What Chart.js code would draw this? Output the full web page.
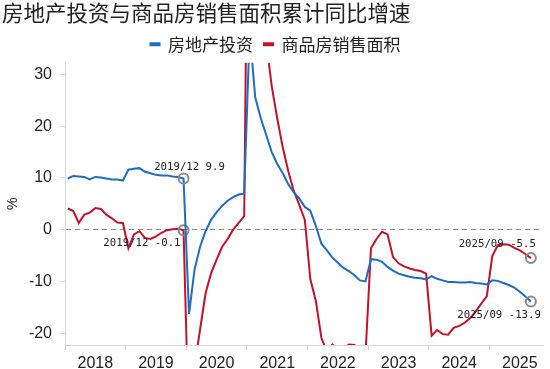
<!DOCTYPE html>
<html>
<head>
<meta charset="utf-8">
<script src="https://cdn.jsdelivr.net/npm/chart.js@4.4.0/dist/chart.umd.min.js"></script>
<style>
html,body{margin:0;padding:0;background:#fff;overflow:hidden}
</style>
</head>
<body>
<canvas id="myChart" width="550" height="369"></canvas>
<script>
var years = ['2018', '2019', '2020', '2021', '2022', '2023', '2024', '2025'];
var months = ['02', '03', '04', '05', '06', '07', '08', '09', '10', '11', '12'];
var yTicks = [-20, -10, 0, 10, 20, 30];

// 房地产投资 累计同比 %
var invest = [
    9.9, 10.4, 10.3, 10.2, 9.7, 10.2, 10.1, 9.9, 9.7, 9.7, 9.5,          //2018
    11.6, 11.8, 11.9, 11.2, 10.9, 10.6, 10.5, 10.5, 10.3, 10.2, 9.9,     //2019
    -16.3, -7.7, -3.3, -0.3, 1.9, 3.4, 4.6, 5.6, 6.3, 6.8, 7.0,          //2020
    38.3, 25.6, 21.6, 18.3, 15.0, 12.7, 10.9, 8.8, 7.2, 6.0, 4.4,        //2021
    3.7, 0.7, -2.7, -4.0, -5.4, -6.4, -7.4, -8.0, -8.8, -9.8, -10.0,     //2022
    -5.7, -5.8, -6.2, -7.2, -7.9, -8.5, -8.8, -9.1, -9.3, -9.4, -9.6,    //2023
    -9.0, -9.5, -9.8, -10.1, -10.1, -10.2, -10.2, -10.1, -10.3, -10.4, -10.6, //2024
    -9.8, -9.9, -10.3, -10.7, -11.2, -12.0, -12.9, -13.9                 //2025
];
// 商品房销售面积 累计同比 %
var sales = [
    4.1, 3.6, 1.3, 2.9, 3.3, 4.2, 4.0, 2.9, 2.2, 1.4, 1.3,               //2018
    -3.6, -0.9, -0.3, -1.6, -1.8, -1.3, -0.6, -0.1, 0.1, 0.2, -0.1,      //2019
    -39.9, -26.3, -19.3, -12.3, -8.4, -5.8, -3.3, -1.8, 0.0, 1.3, 2.6,   //2020
    104.9, 63.8, 48.1, 36.3, 27.7, 21.5, 15.9, 11.3, 7.5, 4.8, 1.9,      //2021
    -9.6, -13.8, -20.9, -23.6, -22.2, -23.1, -23.0, -22.2, -22.3, -23.3, -24.3, //2022
    -3.6, -1.8, -0.4, -0.9, -5.3, -6.5, -7.1, -7.5, -7.8, -8.0, -8.5,    //2023
    -20.5, -19.4, -20.2, -20.3, -19.0, -18.6, -18.0, -17.1, -15.8, -14.3, -12.9, //2024
    -5.1, -3.0, -2.8, -2.9, -3.5, -4.0, -4.7, -5.5                       //2025
];

var dates = [];//每個點的日期
years.forEach(function(y) {
    months.forEach(function(m) { dates.push(y + '/' + m); });
});
dates.length = invest.length;

var marked = [21, invest.length - 1];//畫圈的點 2019/12, 2025/09

// x軸刻度: 年份分界 + 年中(放年份文字)
var xTicks = [];
var xTickText = {};
years.forEach(function(y, k) {
    xTicks.push(-0.5 + 11 * k);
    xTicks.push(5 + 11 * k);
    xTickText[5 + 11 * k] = y;
});

var notes = [//標註文字
    {ds: 0, i: 21, dx: 6, dy: -11, align: 'center'},
    {ds: 1, i: 21, dx: -3, dy: 13, align: 'right'},
    {ds: 1, i: invest.length - 1, dx: 5, dy: -14, align: 'right'},
    {ds: 0, i: invest.length - 1, dx: 10, dy: 14, align: 'right'}
];

var notePlugin = {
    id: 'notes',
    afterDatasetsDraw: function(chart) {
        var ctx = chart.ctx;
        ctx.save();
        ctx.font = '10.7px "DejaVu Sans Mono"';
        ctx.fillStyle = '#222';
        ctx.textBaseline = 'middle';
        notes.forEach(function(n) {
            var pt = chart.getDatasetMeta(n.ds).data[n.i];
            var v = chart.data.datasets[n.ds].data[n.i].y;
            ctx.textAlign = n.align;
            ctx.fillText(dates[n.i] + ' ' + v.toFixed(1), pt.x + n.dx, pt.y + n.dy);
        });
        ctx.restore();
    }
};

function toPoints(arr) {
    return arr.map(function(v, i) { return {x: i, y: v}; });
}
function markRadius(c) {
    return marked.indexOf(c.dataIndex) >= 0 ? 5 : 0;
}

var ctx = document.getElementById('myChart').getContext('2d');
var chart = new Chart(ctx, {
    type: 'line',
    data: {
        datasets: [{
            label: '房地产投资',
            data: toPoints(invest),
            borderColor: '#1f6cc0',
            backgroundColor: '#1f6cc0',
            borderWidth: 2,
            tension: 0,
            pointRadius: markRadius,
            pointHoverRadius: markRadius,
            pointBorderColor: '#8a8a8a',
            pointBackgroundColor: 'rgba(0,0,0,0)',
            pointBorderWidth: 2
        }, {
            label: '商品房销售面积',
            data: toPoints(sales),
            borderColor: '#c0122c',
            backgroundColor: '#c0122c',
            borderWidth: 2,
            tension: 0,
            pointRadius: markRadius,
            pointHoverRadius: markRadius,
            pointBorderColor: '#8a8a8a',
            pointBackgroundColor: 'rgba(0,0,0,0)',
            pointBorderWidth: 2
        }]
    },
    options: {
        responsive: false,
        animation: false,
        layout: {padding: {left: 2, right: 1, top: 0, bottom: 0}},
        plugins: {
            title: {
                display: true,
                text: '房地产投资与商品房销售面积累计同比增速',
                align: 'start',
                color: '#222',
                font: {family: '"Noto Sans CJK SC"', size: 21.5, weight: 'normal', lineHeight: 1.1},
                padding: {top: 1, bottom: 0}
            },
            legend: {
                display: true,
                labels: {
                    boxWidth: 9,
                    boxHeight: 2,
                    color: '#222',
                    font: {family: '"Noto Sans CJK SC"', size: 17},
                    padding: 11
                }
            },
            tooltip: {enabled: false}
        },
        scales: {
            x: {
                type: 'linear',
                min: -0.5,
                max: 86.2,
                afterBuildTicks: function(axis) {
                    axis.ticks = xTicks.map(function(v) { return {value: v}; });
                },
                afterFit: function(axis) { axis.height = 24; },
                grid: {
                    drawOnChartArea: false,
                    tickLength: 5,
                    tickColor: function(c) {
                        return (c.tick && Number.isInteger(c.tick.value)) ? 'rgba(0,0,0,0)' : '#d0d0d0';
                    }
                },
                border: {color: '#d9d9d9'},
                ticks: {
                    autoSkip: false,
                    maxRotation: 0,
                    padding: 4,
                    color: '#222',
                    font: {family: '"Liberation Sans"', size: 16},
                    callback: function(value) { return xTickText[value] || ''; }
                }
            },
            y: {
                min: -22.3,
                max: 32.3,
                afterBuildTicks: function(axis) {
                    axis.ticks = yTicks.map(function(v) { return {value: v}; });
                },
                afterFit: function(axis) { axis.width = 63; },
                grid: {
                    color: function(c) {
                        return (c.tick && c.tick.value === 0) ? '#8c8c8c' : 'rgba(0,0,0,0)';
                    },
                    tickLength: 5,
                    tickColor: '#d9d9d9'
                },
                border: {color: '#d9d9d9', dash: [5, 4]},
                title: {
                    display: true,
                    text: '%',
                    color: '#222',
                    font: {family: '"Liberation Sans"', size: 14},
                    padding: {top: 3, bottom: 0}
                },
                ticks: {
                    padding: 8,
                    color: '#222',
                    font: {family: '"Liberation Sans"', size: 16}
                }
            }
        }
    },
    plugins: [notePlugin]
});
</script>
</body>
</html>
